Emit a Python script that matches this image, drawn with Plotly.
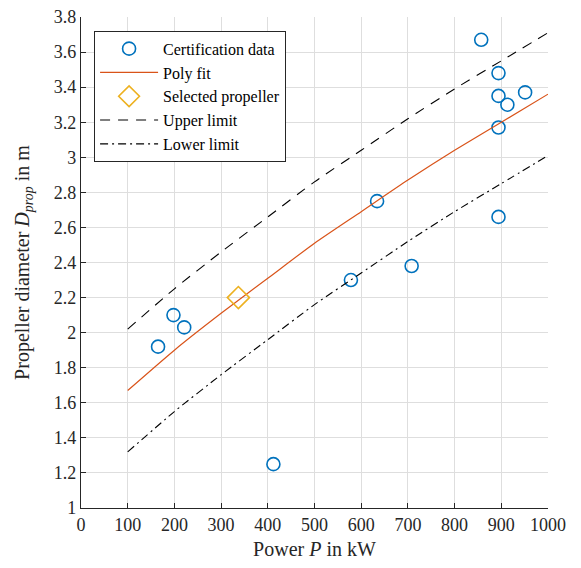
import plotly.graph_objects as go

# Certification data
cert_power = [165, 198, 221, 412, 578, 634, 708, 857, 894, 894, 894, 894, 913, 951]
cert_diam = [1.92, 2.10, 2.03, 1.25, 2.30, 2.75, 2.38, 3.67, 3.48, 3.35, 3.17, 2.66, 3.30, 3.37]

# Selected propeller
sel_power = [337]
sel_diam = [2.20]

# Poly fit and limits
fit_power = [100, 200, 300, 400, 500, 600, 700, 800, 900, 1000]
fit_diam = [1.67, 1.90, 2.11, 2.31, 2.51, 2.69, 2.87, 3.04, 3.20, 3.36]
upper_diam = [2.02, 2.25, 2.46, 2.66, 2.86, 3.04, 3.22, 3.39, 3.55, 3.71]
lower_diam = [1.32, 1.55, 1.76, 1.96, 2.16, 2.34, 2.52, 2.69, 2.85, 3.01]

FONT = "Liberation Serif"

fig = go.Figure()
fig.add_trace(go.Scatter(
    x=cert_power, y=cert_diam, mode="markers", name="Certification data",
    marker=dict(symbol="circle-open", size=13, color="#0072BD",
                line=dict(width=1.6, color="#0072BD"))))
fig.add_trace(go.Scatter(
    x=fit_power, y=fit_diam, mode="lines", name="Poly fit",
    line=dict(color="#D95319", width=1.2, shape="spline", smoothing=0.6)))
fig.add_trace(go.Scatter(
    x=sel_power, y=sel_diam, mode="markers", name="Selected propeller",
    marker=dict(symbol="diamond-open", size=17, color="#EDB120",
                line=dict(width=1.6, color="#EDB120"))))
fig.add_trace(go.Scatter(
    x=fit_power, y=upper_diam, mode="lines", name="Upper limit",
    line=dict(color="black", width=1.1, dash="10px,8px", shape="spline", smoothing=0.6)))
fig.add_trace(go.Scatter(
    x=fit_power, y=lower_diam, mode="lines", name="Lower limit",
    line=dict(color="black", width=1.1, dash="8px,4px,2px,4px", shape="spline", smoothing=0.6)))

axis_common = dict(
    showgrid=True, gridcolor="#dedede", gridwidth=1,
    showline=True, linecolor="#262626", linewidth=1.2,
    ticks="inside", ticklen=5, tickcolor="#262626", tickwidth=1,
    tickfont=dict(family=FONT, size=18, color="#262626"),
    zeroline=False, mirror=False, automargin=False,
    ticklabeloverflow="allow",
)

fig.update_layout(
    width=565, height=552,
    margin=dict(l=73, r=25, t=9, b=52),
    paper_bgcolor="white", plot_bgcolor="white",
    font=dict(family=FONT, color="#262626"),
    xaxis=dict(range=[0, 1000], tickmode="array",
               tickvals=[0, 100, 200, 300, 400, 500, 600, 700, 800, 900, 1000],
               title=dict(text="Power <i>P</i> in kW", font=dict(family=FONT, size=20), standoff=15),
               **axis_common),
    yaxis=dict(range=[1, 3.8], tickmode="array",
               tickvals=[1, 1.2, 1.4, 1.6, 1.8, 2, 2.2, 2.4, 2.6, 2.8, 3, 3.2, 3.4, 3.6, 3.8],
               title=dict(text="Propeller diameter <i>D</i><sub><i>prop</i></sub> in m",
                          font=dict(family=FONT, size=20), standoff=18),
               **axis_common),
    legend=dict(x=0.028, y=0.972, xanchor="left", yanchor="top",
                bgcolor="white", bordercolor="#262626", borderwidth=1,
                font=dict(family=FONT, size=16, color="black"),
                tracegroupgap=0, itemwidth=58),
    showlegend=True,
)

fig.write_html("out.html")
